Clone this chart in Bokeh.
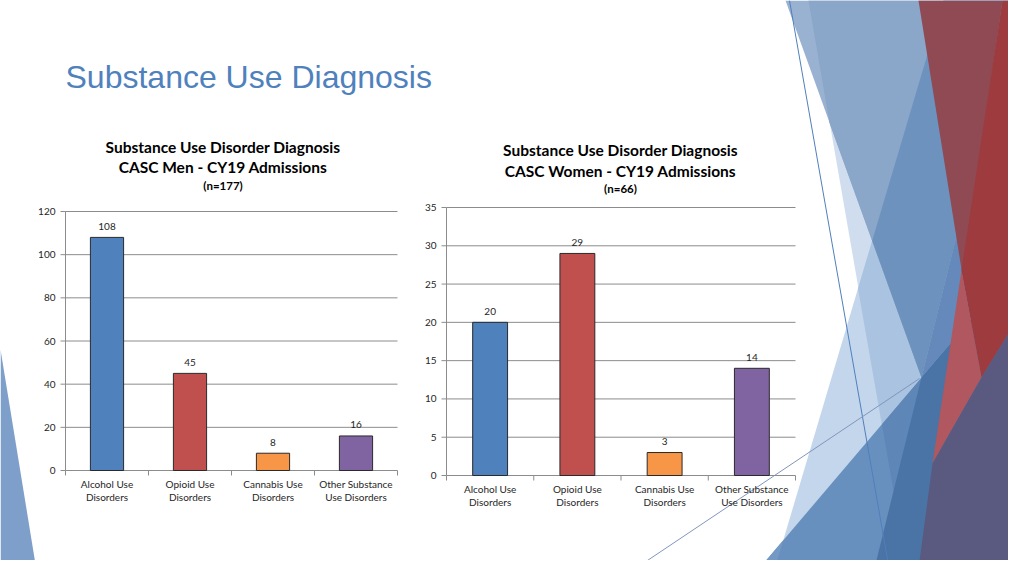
from bokeh.plotting import figure
from bokeh.models import Range1d
from bokeh.core.properties import value
from bokeh.embed import file_html
from bokeh.resources import INLINE

# ---------------- data ----------------
categories = ["Alcohol Use\nDisorders", "Opioid Use\nDisorders",
              "Cannabis Use\nDisorders", "Other Substance\nUse Disorders"]
men_values = [108, 45, 8, 16]
women_values = [20, 29, 3, 14]
men_ticks = [0, 20, 40, 60, 80, 100, 120]
women_ticks = [0, 5, 10, 15, 20, 25, 30, 35]
bar_colors = ["#4F81BD", "#C0504D", "#F79646", "#8064A2"]
slide_title = "Substance Use Diagnosis"
men_title = ["Substance Use Disorder Diagnosis", "CASC Men - CY19 Admissions", "(n=177)"]
women_title = ["Substance Use Disorder Diagnosis", "CASC Women - CY19 Admissions", "(n=66)"]

# ---------------- page figure (data coords = screen pixels) ----------------
W, H = 1008, 560
p = figure(width=W, height=H, x_range=Range1d(0, W), y_range=Range1d(H, 0),
           x_axis_type=None, y_axis_type=None, toolbar_location=None,
           output_backend="svg", min_border=0, outline_line_color=None,
           background_fill_color="white", border_fill_color="white")

FONT = value("Lato")

# decorative slide shapes (Facet-like theme), painted in order
shapes = [
    ([0, 37, 0], [349, 576, 576], "#7F9FCB"),                                   # left sliver
    ([808, 1024, 1024, 908], [0, 0, 576, 576], "#D0DDEE"),                      # pale
    ([943, 1024, 1024, 772], [0, 0, 576, 576], "#C3D6EB"),                      # light
    ([943, 1024, 1024, 908, 857.5], [0, 0, 576, 576, 288], "#A9C3E0"),          # light overlap
    ([785, 1014, 921], [0, 0, 377], "#9AB2D1"),                                 # steel
    ([808, 1014, 921, 829], [0, 0, 377, 122.5], "#8AA6C8"),                     # steel overlap
    ([943, 1014, 921, 871.7], [0, 0, 377, 240.2], "#6E92BE"),                   # medium
    ([1014, 1024, 1024, 921], [0, 0, 256, 377], "#6489BA"),
    ([752, 1024, 1024], [576, 256, 576], "#6890BF"),                            # lower blue
    ([752, 782.7, 772], [576, 539.8, 576], "#7599C5"),
    ([881.4, 1024, 1024, 908], [424, 256, 576, 576], "#5E87B8"),
    ([921, 1024, 1024, 872], [377, 256, 576, 576], "#4A73A6"),                  # dark blue
    ([918, 1002, 962], [0, 0, 275], "#8F4A53"),                                 # muted red
    ([1002, 1024, 1024, 981, 961], [0, 0, 307, 377, 270], "#9E3B3E"),           # red
    ([961, 981, 932], [270, 377, 463], "#B0575F"),                              # pink
    ([1024, 981, 932, 917, 1024], [307, 377, 463, 576, 576], "#5A5A80"),        # purple
]
for xs, ys, col in shapes:
    p.patch(xs, ys, fill_color=col, line_color=None)
p.line([789, 890], [0, 576], line_color="#4F7FBC", line_width=1)
p.line([623, 919], [576, 378], line_color="#8096BE", line_width=1)

# slide title
p.text(x=[65], y=[76], text=[slide_title], text_font=value("Liberation Sans"),
       text_font_size="32px", text_color="#4F81BD", text_baseline="middle",
       text_align="left")


def draw_chart(name, vals, ticks, left, right, y0px, ytop_px, titles, tcx, tys):
    n = len(vals)
    kx = (right - left) / n
    xs = -left / kx
    p.extra_x_ranges[name + "_x"] = Range1d(xs, xs + W / kx)
    ky = (y0px - ytop_px) / ticks[-1]
    ys = -(H - y0px) / ky
    p.extra_y_ranges[name + "_y"] = Range1d(ys, ys + H / ky)
    kw = dict(x_range_name=name + "_x", y_range_name=name + "_y")
    tmax = ticks[-1]
    gray = "#8C8C8C"
    # gridlines
    p.segment(x0=[0] * len(ticks), x1=[n] * len(ticks), y0=ticks, y1=ticks,
              line_color=gray, line_width=1, **kw)
    # y axis line & ticks
    p.segment(x0=[0], x1=[0], y0=[0], y1=[tmax], line_color=gray, line_width=1, **kw)
    p.segment(x0=[-5 / kx] * len(ticks), x1=[0] * len(ticks), y0=ticks, y1=ticks,
              line_color=gray, line_width=1, **kw)
    # x ticks at slot boundaries
    bx = list(range(n + 1))
    p.segment(x0=bx, x1=bx, y0=[0] * len(bx), y1=[-5 / ky] * len(bx),
              line_color=gray, line_width=1, **kw)
    # tick labels
    p.text(x=[0] * len(ticks), y=ticks, text=[str(t) for t in ticks], x_offset=-10,
           text_align="right", text_baseline="middle", text_font=FONT,
           text_font_size="10px", text_color="#262626", **kw)
    # bars
    cx = [i + 0.5 for i in range(n)]
    p.vbar(x=cx, top=vals, bottom=0, width=0.4, fill_color=bar_colors,
           line_color="#2A2A2A", line_width=1, **kw)
    # value labels
    p.text(x=cx, y=vals, text=[str(v) for v in vals], y_offset=-11,
           text_align="center", text_baseline="middle", text_font=FONT,
           text_font_size="10px", text_color="#262626", **kw)
    # category labels (two lines)
    l1 = [c.split("\n")[0] for c in categories]
    l2 = [c.split("\n")[1] for c in categories]
    p.text(x=cx, y=[0] * n, text=l1, y_offset=13, text_align="center",
           text_baseline="middle", text_font=FONT, text_font_size="10px",
           text_color="#262626", **kw)
    p.text(x=cx, y=[0] * n, text=l2, y_offset=26, text_align="center",
           text_baseline="middle", text_font=FONT, text_font_size="10px",
           text_color="#262626", **kw)
    # titles (screen coordinates)
    sizes = ["15.5px", "15.5px", "11.5px"]
    for t, ty, sz in zip(titles, tys, sizes):
        p.text(x=[tcx], y=[ty], text=[t], text_align="center", text_baseline="middle",
               text_font=FONT, text_font_style="bold", text_font_size=sz,
               text_color="#000000")


draw_chart("men", men_values, men_ticks, 65, 397, 470, 211, men_title, 222.5,
           [146.5, 166.5, 185])
draw_chart("women", women_values, women_ticks, 446, 795, 475, 207, women_title, 620,
           [149.5, 170, 187.5])

open("out.html", "w").write(file_html(p, INLINE))
